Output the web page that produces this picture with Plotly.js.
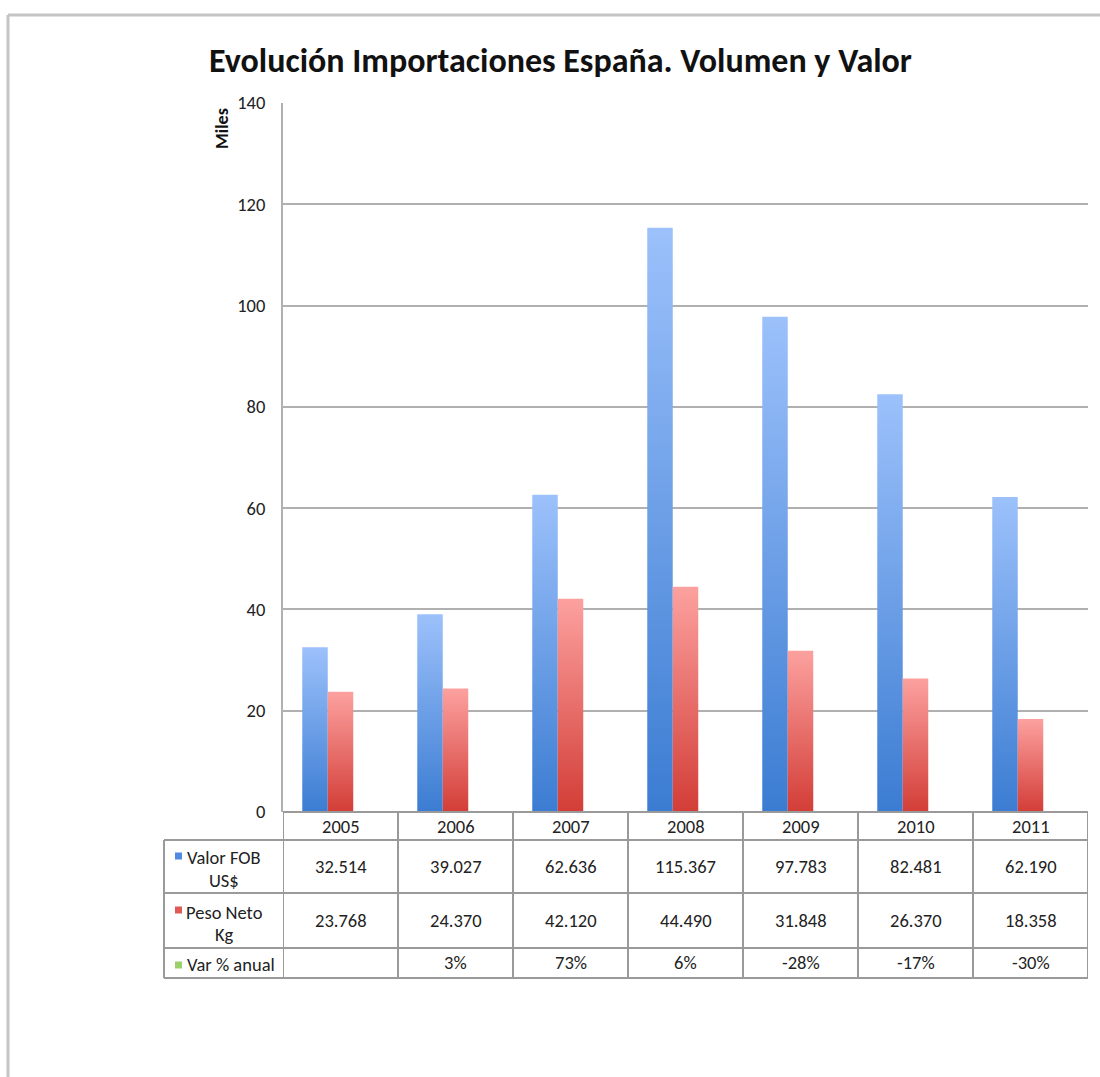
<!DOCTYPE html>
<html>
<head>
<meta charset="utf-8">
<script src="https://cdn.plot.ly/plotly-3.0.1.min.js"></script>
<style>
html,body{margin:0;padding:0;background:#fff;}
#chart{width:1100px;height:1077px;}
</style>
</head>
<body>
<div id="chart"></div>
<script>
// ---- data ----
const years = ['2005','2006','2007','2008','2009','2010','2011'];
const valorFOB = [32.514, 39.027, 62.636, 115.367, 97.783, 82.481, 62.190]; // Miles US$
const pesoNeto = [23.768, 24.370, 42.120, 44.490, 31.848, 26.370, 18.358];   // Miles Kg
const varAnual = [null, 0.03, 0.73, 0.06, -0.28, -0.17, -0.30];              // fraction
const seriesNames = ['Valor FOB\nUS$', 'Peso Neto\nKg', 'Var % anual'];
const seriesColors = ['#4f8ae0', '#e05a55', '#9bd16a'];
const yTicks = [0, 20, 40, 60, 80, 100, 120, 140];

// ---- layout helpers (pixel -> paper) ----
const L = 283, R = 1088, T = 103, B = 812;
const W = R - L, H = B - T;
const px = v => (v - L) / W;
const py = v => (B - v) / H;

const FONT = 'Carlito, "Liberation Sans", Arial, sans-serif';
const FS = 18.5;

const traces = [
  {type:'bar', x: years, y: valorFOB, name: seriesNames[0],
   marker:{color: seriesColors[0]}, hoverinfo:'x+y'},
  {type:'bar', x: years, y: pesoNeto, name: seriesNames[1],
   marker:{color: seriesColors[1]}, hoverinfo:'x+y'},
  {type:'bar', x: years, y: varAnual.map(v => v === null ? null : v / 1000), name: seriesNames[2],
   marker:{color: seriesColors[2], line:{color: seriesColors[2], width: 1}}, hoverinfo:'x+y'}
];

const gridC = '#9a9a9a';
const shapes = [];
const annotations = [];

// outer chart frame
shapes.push({type:'line', xref:'paper', yref:'paper', x0:px(8), x1:px(1100), y0:py(15), y1:py(15), line:{color:'#c4c4c4', width:3}});
shapes.push({type:'line', xref:'paper', yref:'paper', x0:px(8), x1:px(8), y0:py(15), y1:py(1077), line:{color:'#c4c4c4', width:3}});

// table rows
const rowTops = [812, 840, 893, 948, 978];
const tableLeft = 164;
shapes.push({type:'line', xref:'x', yref:'paper', x0:-0.5, x1:years.length-0.5, y0:py(rowTops[0]), y1:py(rowTops[0]), line:{color:gridC, width:2}});
for (let r = 1; r < rowTops.length; r++) {
  shapes.push({type:'line', xref:'paper', yref:'paper', x0:px(tableLeft), x1:1, y0:py(rowTops[r]), y1:py(rowTops[r]), line:{color:gridC, width:2}});
}
for (let i = 0; i <= years.length; i++) {
  shapes.push({type:'line', xref:'x', yref:'paper', x0:i-0.5, x1:i-0.5, y0:py(812), y1:py(978), line:{color:gridC, width:2}});
}
shapes.push({type:'line', xref:'paper', yref:'paper', x0:px(tableLeft), x1:px(tableLeft), y0:py(840), y1:py(978), line:{color:gridC, width:2}});

// year headers
years.forEach((yr, i) => {
  annotations.push({xref:'x', yref:'paper', x:i, y:py(826), text:yr, showarrow:false,
    xanchor:'center', yanchor:'middle', font:{family:FONT, size:FS, color:'#222'}});
});
// table values
const fmt3 = v => v.toFixed(3);
const rowsText = [valorFOB.map(fmt3), pesoNeto.map(fmt3), varAnual.map(v => v === null ? '' : Math.round(v*100) + '%')];
const rowCenters = [866.5, 920.5, 963];
rowsText.forEach((row, r) => {
  row.forEach((t, i) => {
    if (!t) return;
    annotations.push({xref:'x', yref:'paper', x:i, y:py(rowCenters[r]), text:t, showarrow:false,
      xanchor:'center', yanchor:'middle', font:{family:FONT, size:FS, color:'#222'}});
  });
});
// row labels with legend keys
const labelLines = [[858, 880], [912, 934], [965]];
const labelX = [224, 224, 231];
const keyY = [856, 910, 965];
seriesNames.forEach((nm, r) => {
  const parts = nm.split('\n');
  parts.forEach((p, k) => {
    annotations.push({xref:'paper', yref:'paper', x:px(labelX[r]), y:py(labelLines[r][k]), text:p, showarrow:false,
      xanchor:'center', yanchor:'middle', font:{family:FONT, size:FS, color:'#222'}});
  });
  shapes.push({type:'rect', xref:'paper', yref:'paper', x0:px(175), x1:px(182), y0:py(keyY[r]-3.5), y1:py(keyY[r]+3.5),
    fillcolor: seriesColors[r], line:{width:0}});
});

// "Miles" display-unit label
annotations.push({xref:'paper', yref:'paper', x:px(222), y:py(129), text:'<b>Miles</b>', showarrow:false,
  textangle:-90, xanchor:'center', yanchor:'middle', font:{family:FONT, size:18, color:'#111'}});

const layout = {
  width:1100, height:1077,
  margin:{l:L, r:1100-R, t:T, b:1077-B, pad:0},
  paper_bgcolor:'#fff', plot_bgcolor:'#fff',
  title:{text:'<b>Evolución Importaciones España. Volumen y Valor</b>', xref:'container', yref:'container',
    x:560.5/1100, y:1-60/1077, xanchor:'center', yanchor:'middle', font:{family:FONT, size:34, color:'#111'}},
  showlegend:false,
  barmode:'group', bargap:0.335, bargroupgap:0,
  xaxis:{type:'category', range:[-0.5, years.length-0.5], showticklabels:false, showgrid:false,
    zeroline:false, showline:false, ticks:''},
  yaxis:{range:[0,140], tickvals:yTicks, ticktext:yTicks.map(String), showgrid:true, gridcolor:'#b0b0b0', gridwidth:2,
    zeroline:false, showline:true, linecolor:'#b0b0b0', linewidth:2, ticks:'', ticklabelstandoff:12,
    tickfont:{family:FONT, size:FS, color:'#222'}},
  shapes: shapes,
  annotations: annotations
};

Plotly.newPlot('chart', traces, layout, {displayModeBar:false, staticPlot:true}).then(gd => {
  const svg = gd.querySelector('.main-svg');
  const ns = 'http://www.w3.org/2000/svg';
  const defs = document.createElementNS(ns, 'defs');
  const grads = [['gBlue', '#9cc1fb', '#3b7cd2'], ['gRed', '#fca19f', '#d33d37']];
  grads.forEach(([id, top, bot]) => {
    const g = document.createElementNS(ns, 'linearGradient');
    g.setAttribute('id', id); g.setAttribute('x1','0'); g.setAttribute('y1','0'); g.setAttribute('x2','0'); g.setAttribute('y2','1');
    [[0, top], [1, bot]].forEach(([o, c]) => {
      const s = document.createElementNS(ns, 'stop');
      s.setAttribute('offset', o); s.setAttribute('stop-color', c);
      g.appendChild(s);
    });
    defs.appendChild(g);
  });
  svg.insertBefore(defs, svg.firstChild);
  const tr = gd.querySelectorAll('.barlayer .trace');
  ['gBlue', 'gRed'].forEach((id, k) => {
    if (!tr[k]) return;
    tr[k].querySelectorAll('path').forEach(p => { p.style.fill = 'url(#' + id + ')'; });
  });
});
</script>
</body>
</html>
